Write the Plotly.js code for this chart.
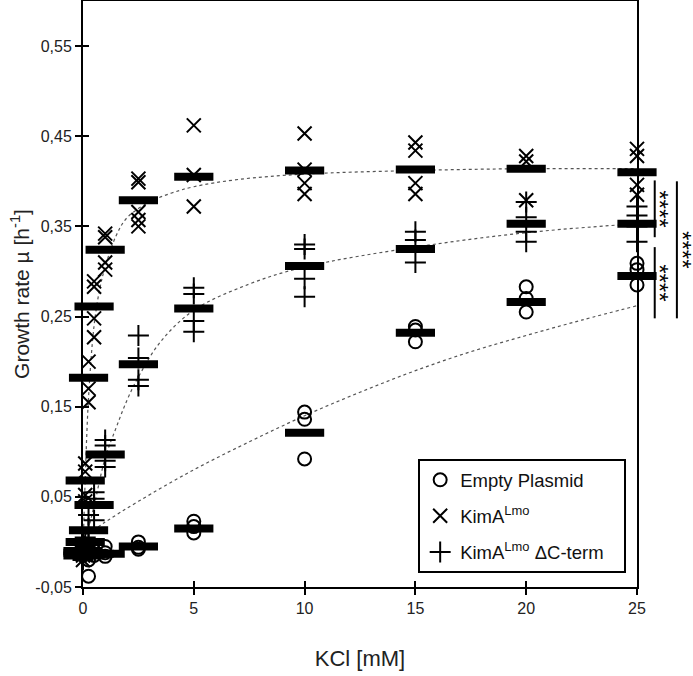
<!DOCTYPE html>
<html>
<head>
<meta charset="utf-8">
<script src="https://cdn.plot.ly/plotly-3.0.1.min.js"></script>
<style>
  body { margin: 0; background: #fff; }
  #plot { width: 693px; height: 676px; }
</style>
</head>
<body>
<div id="plot"></div>
<script>
// KCl concentrations (mM)
let kcl = [0, 0.1, 0.25, 0.5, 1, 2.5, 5, 10, 15, 20, 25]

// means (thick bars)
let emptyMean = [-0.015, -0.014, -0.013, -0.013, -0.013, -0.005, 0.015, 0.121, 0.232, 0.266, 0.295]
let kimaMean = [-0.012, 0.068, 0.182, 0.261, 0.324, 0.379, 0.405, 0.412, 0.413, 0.414, 0.41]
let deltaMean = [-0.01, 0.0, 0.013, 0.041, 0.097, 0.197, 0.259, 0.306, 0.325, 0.353, 0.353]

// single replicates
let emptyX = [0, 0, 0.1, 0.25, 0.25, 0.5, 0.5, 1, 1, 1, 2.5, 2.5, 2.5, 5, 5, 5, 10, 10, 10, 15, 15, 15, 20, 20, 20, 25, 25, 25]
let emptyY = [-0.008, -0.015, -0.012, -0.038, -0.02, -0.01, -0.015, -0.005, -0.012, -0.016, 0.0, -0.006, -0.008, 0.023, 0.017, 0.01, 0.144, 0.136, 0.092, 0.239, 0.235, 0.222, 0.283, 0.27, 0.255, 0.309, 0.302, 0.285]

let kimaX = [0, 0, 0, 0.1, 0.1, 0.1, 0.1, 0.25, 0.25, 0.25, 0.5, 0.5, 0.5, 0.5, 1, 1, 1, 1, 2.5, 2.5, 2.5, 2.5, 2.5, 5, 5, 5, 10, 10, 10, 10, 15, 15, 15, 15, 20, 20, 20, 25, 25, 25, 25]
let kimaY = [-0.005, -0.015, -0.02, 0.087, 0.078, 0.052, 0.045, 0.2, 0.17, 0.155, 0.289, 0.283, 0.248, 0.227, 0.342, 0.338, 0.31, 0.302, 0.403, 0.399, 0.366, 0.357, 0.35, 0.462, 0.407, 0.372, 0.453, 0.413, 0.398, 0.386, 0.443, 0.434, 0.398, 0.386, 0.428, 0.422, 0.379, 0.436, 0.428, 0.396, 0.385]

let deltaX = [0, 0, 0, 0.1, 0.1, 0.25, 0.25, 0.25, 0.5, 0.5, 0.5, 1, 1, 1, 1, 2.5, 2.5, 2.5, 2.5, 5, 5, 5, 5, 10, 10, 10, 10, 15, 15, 15, 20, 20, 20, 20, 25, 25, 25, 25]
let deltaY = [0.0, -0.01, -0.02, 0.005, -0.005, 0.03, 0.015, 0.0, 0.055, 0.048, 0.024, 0.113, 0.107, 0.09, 0.083, 0.229, 0.204, 0.18, 0.173, 0.282, 0.275, 0.245, 0.233, 0.33, 0.325, 0.292, 0.272, 0.344, 0.335, 0.31, 0.377, 0.36, 0.344, 0.333, 0.372, 0.362, 0.35, 0.333]

// fitted curves
let kimaFitX = [0, 0.1, 0.25, 0.5, 0.75, 1, 1.5, 2, 3, 4, 5, 7, 10, 15, 20, 25]
let kimaFitY = [-0.01, 0.07, 0.16, 0.24, 0.28, 0.305, 0.34, 0.36, 0.377, 0.387, 0.394, 0.402, 0.408, 0.412, 0.414, 0.414]
let deltaFitX = [0, 0.25, 0.5, 1, 1.5, 2, 2.5, 3.5, 5, 7.5, 10, 15, 20, 25]
let deltaFitY = [-0.005, 0.015, 0.04, 0.093, 0.127, 0.158, 0.183, 0.222, 0.257, 0.286, 0.305, 0.327, 0.343, 0.353]
let emptyFitX = [0, 1, 2.5, 5, 7.5, 10, 12.5, 15, 17.5, 20, 22.5, 25]
let emptyFitY = [0.005, 0.022, 0.045, 0.08, 0.111, 0.14, 0.166, 0.19, 0.211, 0.229, 0.246, 0.262]

// axis ticks
let yTickVals = [-0.05, 0.05, 0.15, 0.25, 0.35, 0.45, 0.55]
let yTickText = ['-0,05', '0,05', '0,15', '0,25', '0,35', '0,45', '0,55']
let xTickVals = [0, 5, 10, 15, 20, 25]

// significance brackets at 25 mM: bar from / to (growth rate), position right of the plot (fraction of width)
let sigFrom = [0.401, 0.327, 0.400]
let sigTo = [0.338, 0.248, 0.248]
let sigPos = [1.032, 1.032, 1.072]
let sigLabel = '****'

let font = 'Liberation Sans, Arial, sans-serif'

function fitTrace(x, y) {
    return {
        x: x, y: y, mode: 'lines', type: 'scatter',
        line: { color: '#555', width: 1.2, dash: 'dot', shape: 'spline' },
        showlegend: false, hoverinfo: 'skip'
    }
}

function meanTrace(y) {
    return {
        x: kcl, y: y, mode: 'markers', type: 'scatter', cliponaxis: false,
        marker: { symbol: 'line-ew-open', size: 28, color: '#000', line: { color: '#000', width: 8 } },
        showlegend: false
    }
}

let data = [
    fitTrace(emptyFitX, emptyFitY),
    fitTrace(deltaFitX, deltaFitY),
    fitTrace(kimaFitX, kimaFitY),
    {
        x: emptyX, y: emptyY, mode: 'markers', type: 'scatter', cliponaxis: false,
        name: 'Empty Plasmid', legendgroup: 'a',
        marker: { symbol: 'circle-open', size: 13, color: '#000', line: { color: '#000', width: 2 } }
    },
    {
        x: kimaX, y: kimaY, mode: 'markers', type: 'scatter', cliponaxis: false,
        name: 'KimA<sup>Lmo</sup>', legendgroup: 'b',
        marker: { symbol: 'x-thin-open', size: 14, color: '#000', line: { color: '#000', width: 2 } }
    },
    {
        x: deltaX, y: deltaY, mode: 'markers', type: 'scatter', cliponaxis: false,
        name: 'KimA<sup>Lmo</sup> ΔC-term   ', legendgroup: 'c',
        marker: { symbol: 'cross-thin-open', size: 15, color: '#000', line: { color: '#000', width: 2 } }
    },
    meanTrace(emptyMean),
    meanTrace(kimaMean),
    meanTrace(deltaMean),
    // empty trace so the inward-tick axes get drawn
    { x: [], y: [], xaxis: 'x2', yaxis: 'y2', type: 'scatter', showlegend: false }
]

// bracket lines with a rotated star label next to each
let shapes = []
let annotations = []
for (let i = 0; i < sigFrom.length; i++) {
    shapes.push({
        type: 'line', xref: 'paper', yref: 'y',
        x0: sigPos[i], x1: sigPos[i], y0: sigFrom[i], y1: sigTo[i],
        line: { color: '#000', width: 2 }
    })
    annotations.push({
        xref: 'paper', yref: 'y', x: sigPos[i] + 0.006, y: (sigFrom[i] + sigTo[i]) / 2,
        xanchor: 'left', yanchor: 'middle', xshift: -14,
        text: sigLabel, textangle: 90, showarrow: false,
        font: { family: font, size: 24, color: '#000' }
    })
}

let layout = {
    width: 693,
    height: 676,
    margin: { l: 83, r: 56, t: 1, b: 89 },
    paper_bgcolor: '#fff',
    plot_bgcolor: '#fff',
    font: { family: font, size: 16, color: '#222' },
    showlegend: true,
    legend: {
        x: 0.605, y: 0.218, xanchor: 'left', yanchor: 'top',
        bordercolor: '#000', borderwidth: 2, bgcolor: '#fff',
        traceorder: 'grouped', tracegroupgap: 9,
        font: { family: font, size: 18.5, color: '#111' }
    },
    xaxis: {
        range: [0, 25], tickvals: xTickVals,
        ticks: 'outside', ticklen: 6, tickwidth: 2, tickcolor: '#000',
        showline: true, linecolor: '#000', linewidth: 2, mirror: true,
        showgrid: false, zeroline: false,
        title: { text: 'KCl [mM]', font: { family: font, size: 22, color: '#222' }, standoff: 34 }
    },
    yaxis: {
        range: [-0.05, 0.6], tickvals: yTickVals, ticktext: yTickText,
        ticks: 'outside', ticklen: 6, tickwidth: 2, tickcolor: '#000',
        showline: true, linecolor: '#000', linewidth: 2, mirror: true,
        showgrid: false, zeroline: false,
        title: { text: 'Growth rate µ [h<sup>-1</sup>]', font: { family: font, size: 21, color: '#222' }, standoff: 0 }
    },
    xaxis2: {
        overlaying: 'x', range: [0, 25], tickvals: xTickVals,
        ticks: 'inside', ticklen: 6, tickwidth: 2, tickcolor: '#000',
        showticklabels: false, showline: false, showgrid: false, zeroline: false
    },
    yaxis2: {
        overlaying: 'y', range: [-0.05, 0.6], tickvals: yTickVals,
        ticks: 'inside', ticklen: 6, tickwidth: 2, tickcolor: '#000',
        showticklabels: false, showline: false, showgrid: false, zeroline: false
    },
    shapes: shapes,
    annotations: annotations
}

Plotly.newPlot('plot', data, layout, { displayModeBar: false })
</script>
</body>
</html>
